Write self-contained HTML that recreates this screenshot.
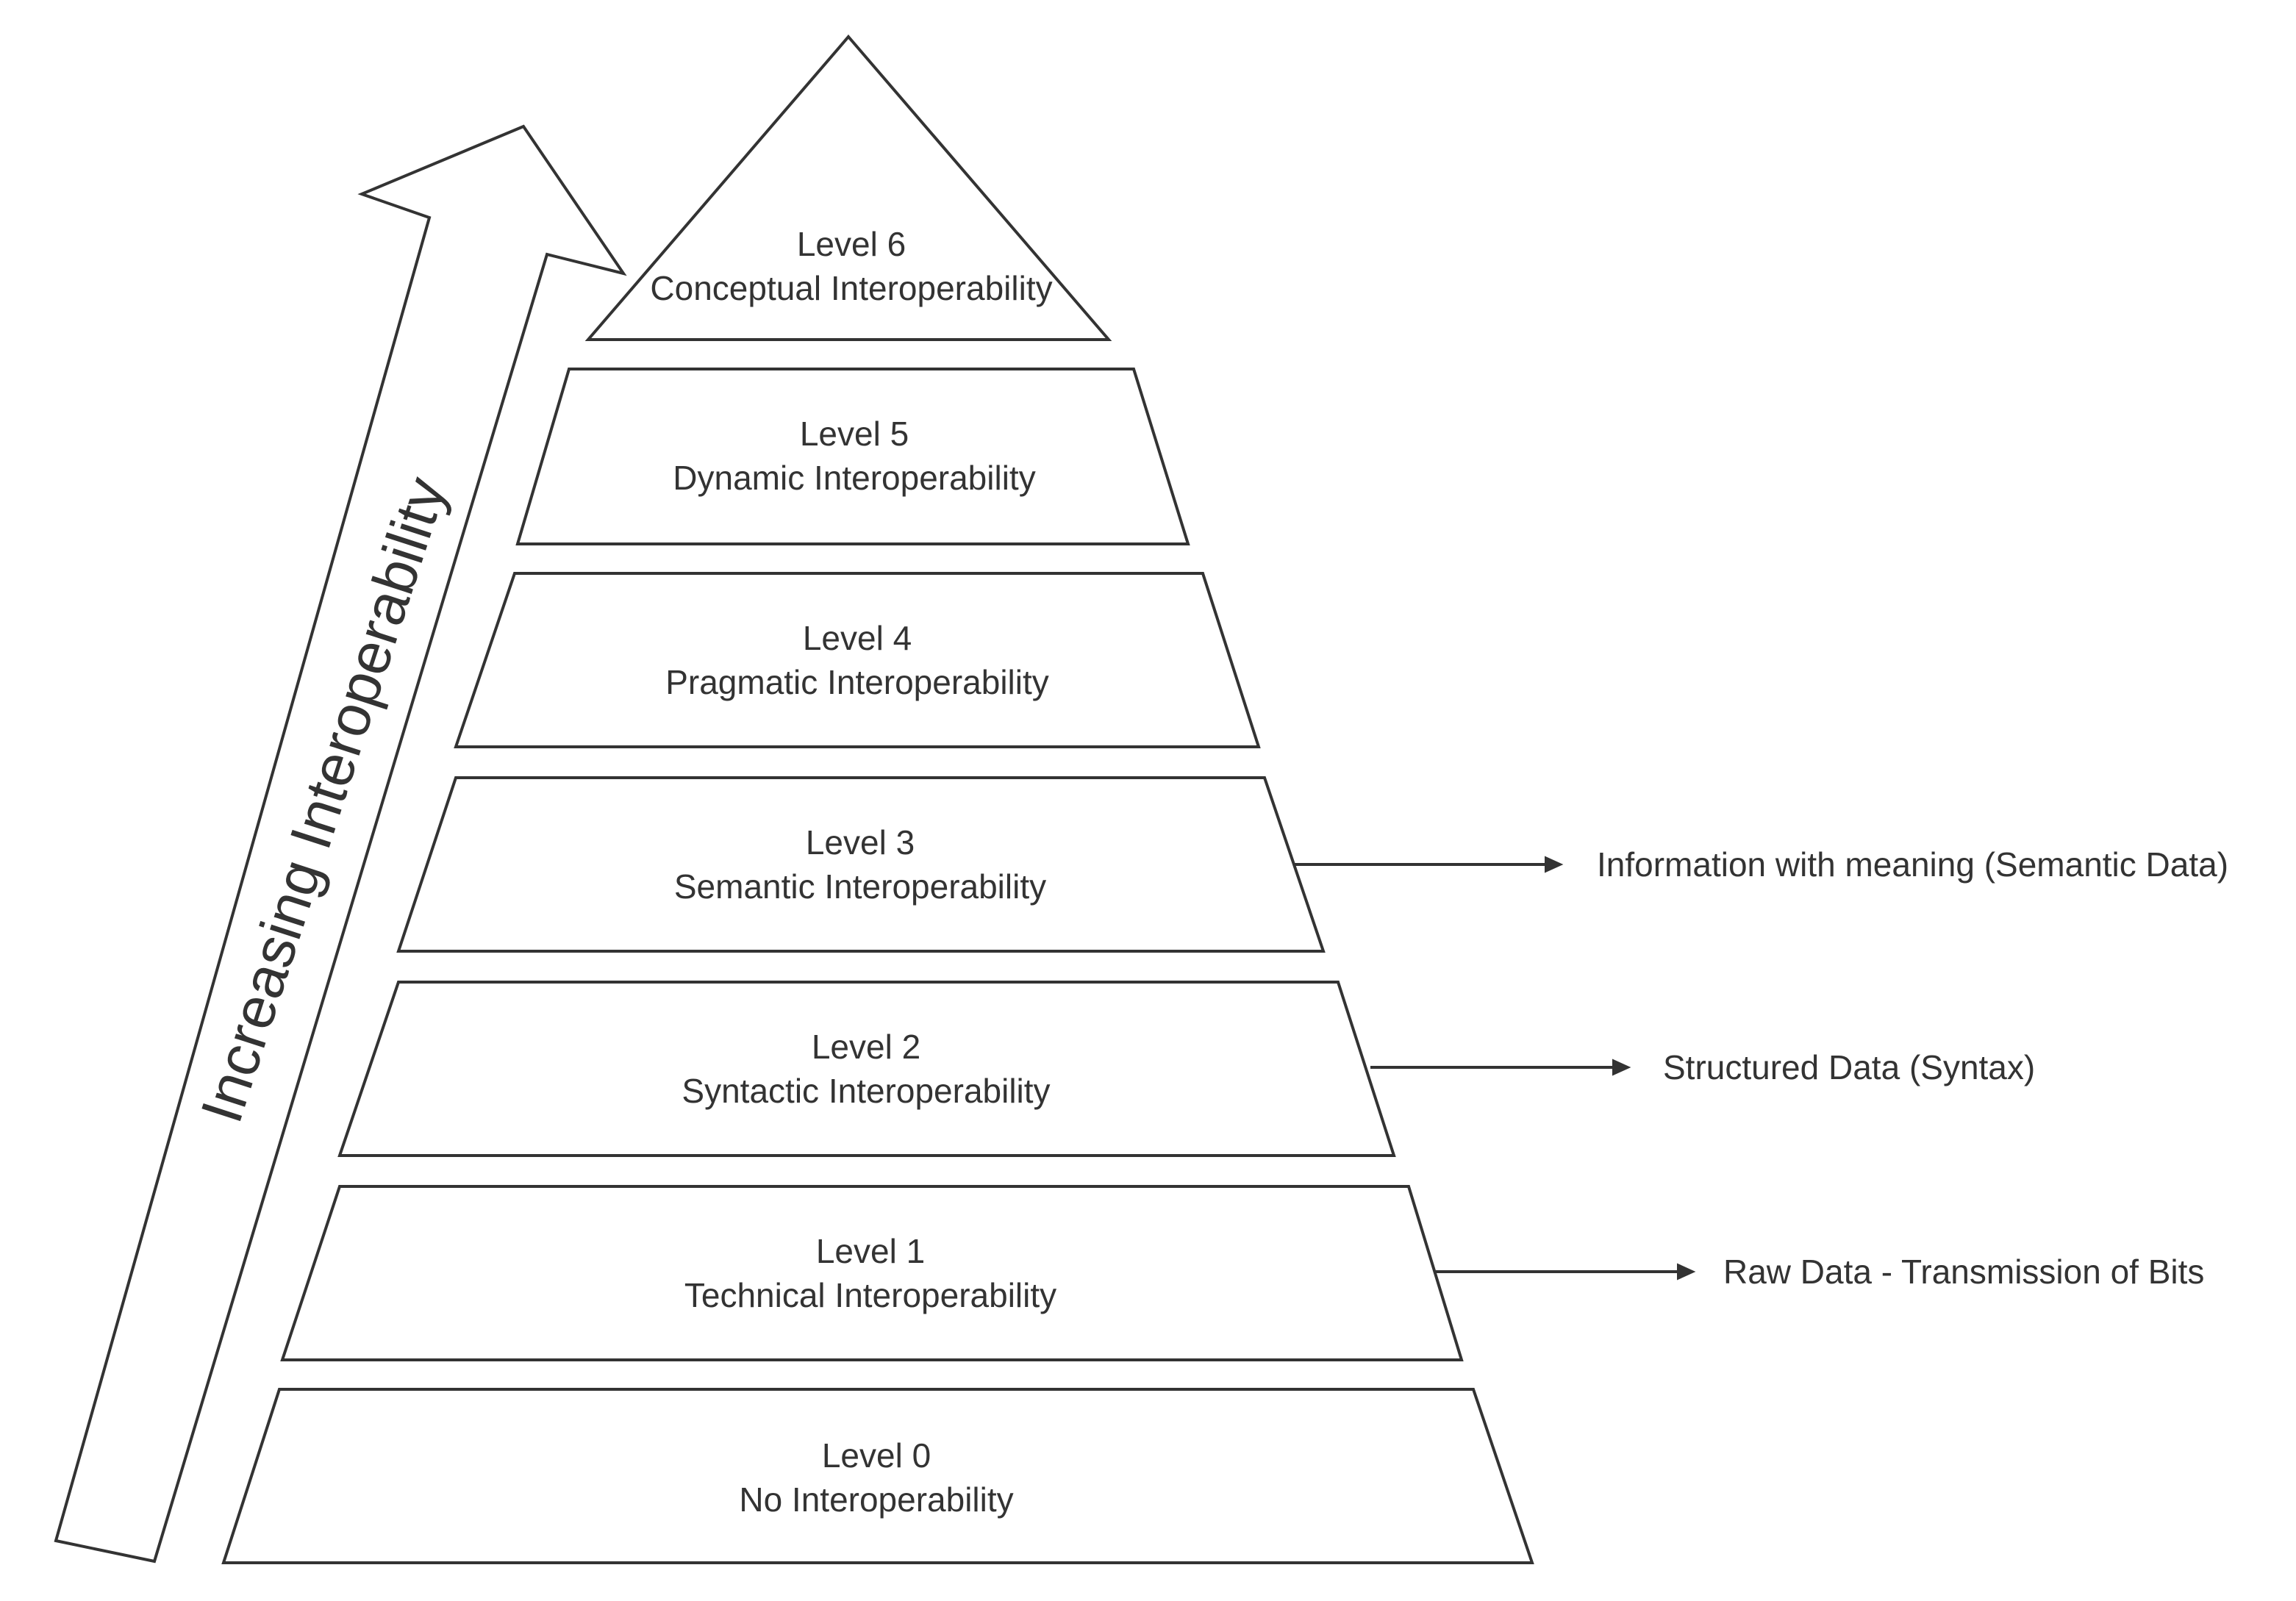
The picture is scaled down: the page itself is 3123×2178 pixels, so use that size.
<!DOCTYPE html>
<html><head><style>body{margin:0;background:#fff}</style></head><body>
<svg width="3123" height="2173" viewBox="0 0 3123 2173" xmlns="http://www.w3.org/2000/svg" font-family="Liberation Sans, sans-serif">
<rect width="3123" height="2173" fill="#fff"/>
<g fill="#fff" stroke="#333" stroke-width="4">
<polygon points="76,2096 210,2124 744,346 848,372 712,172 492,264 584,296"/>
<polygon points="1154,50 1508,462 800,462"/>
<polygon points="774,502 1542,502 1616,740 704,740"/>
<polygon points="700,780 1636,780 1712,1016 620,1016"/>
<polygon points="620,1058 1720,1058 1800,1294 542,1294"/>
<polygon points="542,1336 1820,1336 1896,1572 462,1572"/>
<polygon points="462,1614 1916,1614 1988,1850 384,1850"/>
<polygon points="380,1890 2004,1890 2084,2126 304,2126"/>
</g>
<g fill="#333" stroke="#333" stroke-width="4">
<line x1="1760" y1="1176" x2="2110" y2="1176"/><polygon points="2124,1176 2102,1166 2102,1186" stroke-width="2"/>
<line x1="1864" y1="1452" x2="2202" y2="1452"/><polygon points="2216,1452 2194,1442 2194,1462" stroke-width="2"/>
<line x1="1950" y1="1730" x2="2290" y2="1730"/><polygon points="2304,1730 2282,1720 2282,1740" stroke-width="2"/>
</g>
<g font-size="46" fill="#333" text-anchor="middle">
<text x="1158" y="348">Level 6</text><text x="1158" y="408">Conceptual Interoperability</text>
<text x="1162" y="606">Level 5</text><text x="1162" y="666">Dynamic Interoperability</text>
<text x="1166" y="884">Level 4</text><text x="1166" y="944">Pragmatic Interoperability</text>
<text x="1170" y="1162">Level 3</text><text x="1170" y="1222">Semantic Interoperability</text>
<text x="1178" y="1440">Level 2</text><text x="1178" y="1500">Syntactic Interoperability</text>
<text x="1184" y="1718">Level 1</text><text x="1184" y="1778">Technical Interoperability</text>
<text x="1192" y="1996">Level 0</text><text x="1192" y="2056">No Interoperability</text>
</g>
<g font-size="46" fill="#333" xml:space="preserve">
<text x="2172" y="1192">Information with  meaning (Semantic Data)</text>
<text x="2262" y="1468">Structured Data (Syntax)</text>
<text x="2344" y="1746">Raw Data - Transmission of Bits</text>
</g>
<text transform="translate(446,1090) rotate(-72)" font-size="80" fill="#333" text-anchor="middle" dominant-baseline="middle">Increasing Interoperability</text>
</svg>
</body></html>
